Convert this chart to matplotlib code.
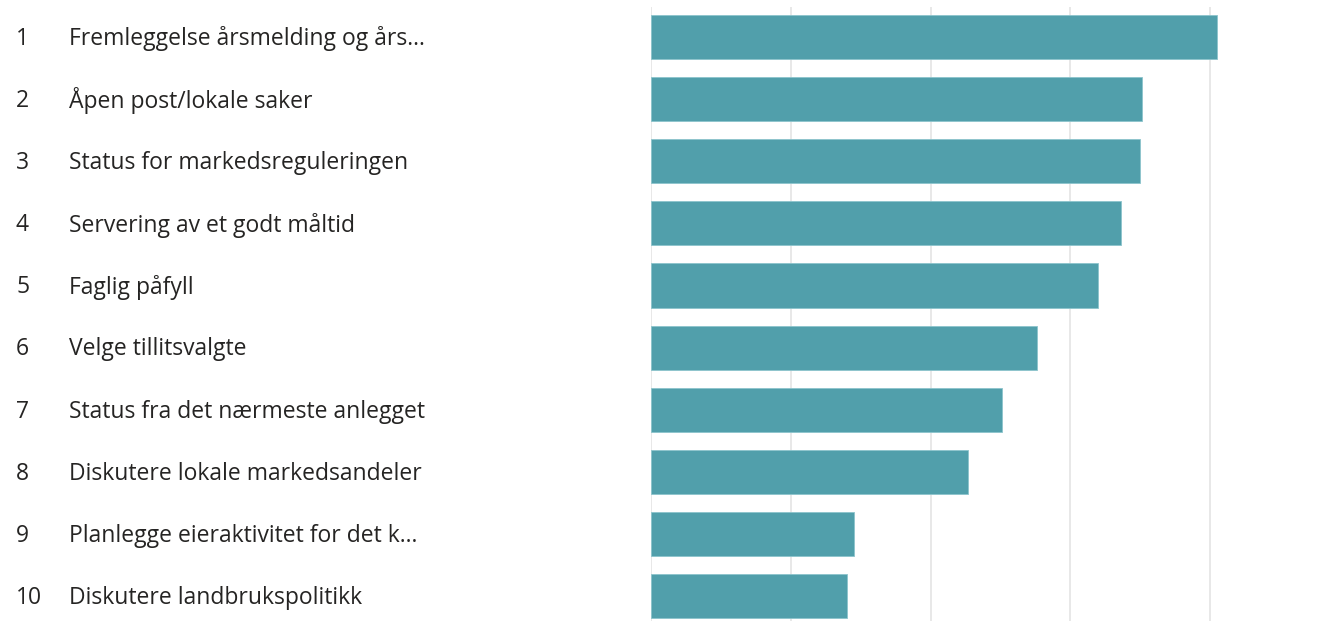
import matplotlib
matplotlib.use('Agg')
import matplotlib.pyplot as plt
import matplotlib.transforms as mtransforms

# Data
ranks = [1, 2, 3, 4, 5, 6, 7, 8, 9, 10]
labels = [
    'Fremleggelse årsmelding og års...',
    'Åpen post/lokale saker',
    'Status for markedsreguleringen',
    'Servering av et godt måltid',
    'Faglig påfyll',
    'Velge tillitsvalgte',
    'Status fra det nærmeste anlegget',
    'Diskutere lokale markedsandeler',
    'Planlegge eieraktivitet for det k...',
    'Diskutere landbrukspolitikk',
]
values = [4.05, 3.51, 3.50, 3.36, 3.20, 2.76, 2.51, 2.27, 1.45, 1.40]

BAR = '#519fab'
TEXT = '#252423'
GRID = '#e6e6e6'

plt.rcParams['font.family'] = ['Open Sans', 'DejaVu Sans']

fig = plt.figure(figsize=(13.34, 6.21), dpi=100)
ax = fig.add_axes([651 / 1334, 0, (1325 - 651) / 1334, 1 - 7 / 621])

ypos = list(range(len(values)))
ax.barh(ypos, values, height=0.71, color=BAR, edgecolor='#8cc4cc', linewidth=0.6, zorder=2)

ax.set_xlim(0, (1325 - 651) / 139.8)
ax.set_ylim(9.40, -0.483)
ax.set_xticks([0, 1, 2, 3, 4])
ax.set_yticks([])
ax.tick_params(axis='x', length=0, labelbottom=False)
ax.grid(axis='x', color=GRID, linewidth=1.3, zorder=0)
for s in ax.spines.values():
    s.set_visible(False)

# rank numbers and labels on the left
trans = mtransforms.blended_transform_factory(fig.transFigure, ax.transData)
for y, r, lab in zip(ypos, ranks, labels):
    ax.text(16 / 1334, y - 0.02, str(r), transform=trans, ha='left', va='center_baseline',
            fontsize=16.5, color=TEXT, clip_on=False)
    ax.text(69 / 1334, y - 0.02, lab, transform=trans, ha='left', va='center_baseline',
            fontsize=16.5, color=TEXT, clip_on=False)

plt.savefig('out.png', dpi=100)
